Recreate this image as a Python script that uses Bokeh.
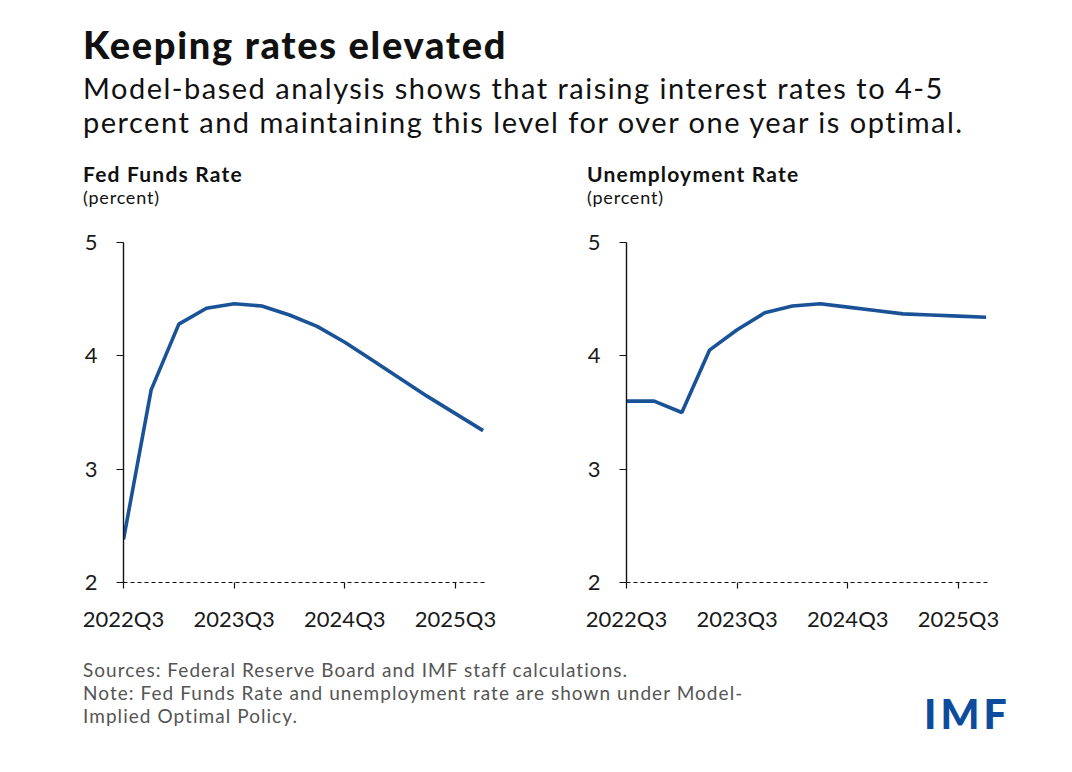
from bokeh.layouts import column, row
from bokeh.models import ColumnDataSource, Div, FixedTicker, Range1d
from bokeh.plotting import figure
from bokeh.embed import file_html
from bokeh.resources import INLINE

# quarterly path under the model-implied optimal policy
quarters = ["2022Q3", "2022Q4", "2023Q1", "2023Q2", "2023Q3", "2023Q4", "2024Q1",
            "2024Q2", "2024Q3", "2024Q4", "2025Q1", "2025Q2", "2025Q3", "2025Q4"]
fed_funds = [2.38, 3.70, 4.28, 4.42, 4.46, 4.44, 4.36, 4.26, 4.12, 3.96, 3.80, 3.64, 3.49, 3.34]
unemployment = [3.60, 3.60, 3.50, 4.05, 4.23, 4.38, 4.44, 4.46, 4.43, 4.40, 4.37, 4.36, 4.35, 4.34]
y_ticks = [2, 3, 4, 5]
x_tick_labels = ["2022Q3", "2023Q3", "2024Q3", "2025Q3"]

LINE = "#1a5298"
FONT = "Lato"


def make_panel(values, width, border_left, border_right):
    xs = list(range(len(quarters)))
    src = ColumnDataSource(data=dict(x=xs, y=values))
    f = figure(width=width, height=430, x_range=Range1d(0, len(quarters) - 0.95),
               y_range=Range1d(y_ticks[0], y_ticks[-1]),
               toolbar_location=None, tools="", output_backend="svg",
               min_border_left=border_left, min_border_right=border_right,
               min_border_top=28, min_border_bottom=62)
    f.line("x", "y", source=src, line_color=LINE, line_width=3.6)

    f.xgrid.grid_line_color = None
    f.ygrid.grid_line_color = None
    f.outline_line_color = None
    f.background_fill_color = "white"
    f.border_fill_color = "white"

    tick_pos = [quarters.index(q) for q in x_tick_labels]
    f.xaxis.ticker = FixedTicker(ticks=tick_pos)
    f.xaxis.major_label_overrides = {i: quarters[i] for i in tick_pos}
    f.xaxis.axis_line_dash = "4 3"
    f.xaxis.axis_line_color = "#111111"
    f.xaxis.axis_line_width = 1.2
    f.xaxis.major_tick_out = 6
    f.xaxis.major_tick_in = 0
    f.xaxis.major_tick_line_color = "#111111"
    f.xaxis.major_tick_line_width = 1.2
    f.xaxis.minor_tick_line_color = None
    f.xaxis.major_label_standoff = 16

    f.yaxis.ticker = FixedTicker(ticks=y_ticks)
    f.yaxis.axis_line_color = "#111111"
    f.yaxis.axis_line_width = 1.4
    f.yaxis.major_tick_out = 7
    f.yaxis.major_tick_in = 0
    f.yaxis.major_tick_line_color = "#111111"
    f.yaxis.major_tick_line_width = 1.2
    f.yaxis.minor_tick_line_color = None
    f.yaxis.major_label_standoff = 19

    for ax in (f.xaxis, f.yaxis):
        ax.major_label_text_font = FONT
        ax.major_label_text_font_size = "22px"
        ax.major_label_text_color = "#1a1a1a"
    return f


p1 = make_panel(fed_funds, 510, 123, 26)
p2 = make_panel(unemployment, 538, 116, 61)

header = Div(width=1056, height=214, styles={"margin": "0", "padding": "0"}, text=f"""
<div style="position:relative;width:1056px;height:214px;font-family:{FONT};color:#111;">
  <div style="position:absolute;left:83px;top:25px;font-size:38px;line-height:38px;font-weight:900;letter-spacing:1.7px;white-space:nowrap;">Keeping rates elevated</div>
  <div style="position:absolute;left:83px;top:71px;font-size:29px;line-height:34px;font-weight:400;letter-spacing:1.5px;white-space:nowrap;">Model-based analysis shows that raising interest rates to 4-5<br>percent and maintaining this level for over one year is optimal.</div>
  <div style="position:absolute;left:83px;top:163px;font-size:21px;line-height:21px;font-weight:700;letter-spacing:1.2px;white-space:nowrap;">Fed Funds Rate</div>
  <div style="position:absolute;left:83px;top:188px;font-size:18px;line-height:18px;letter-spacing:0.8px;white-space:nowrap;">(percent)</div>
  <div style="position:absolute;left:587px;top:163px;font-size:21px;line-height:21px;font-weight:700;letter-spacing:1.2px;white-space:nowrap;">Unemployment Rate</div>
  <div style="position:absolute;left:587px;top:188px;font-size:18px;line-height:18px;letter-spacing:0.8px;white-space:nowrap;">(percent)</div>
</div>""")

footer = Div(width=1056, height=115, styles={"margin": "0", "padding": "0"}, text=f"""
<div style="position:relative;width:1056px;height:115px;font-family:{FONT};">
  <div style="position:absolute;left:83px;top:14px;font-size:19px;line-height:23px;color:#555;letter-spacing:1.05px;white-space:nowrap;">Sources: Federal Reserve Board and IMF staff calculations.<br>Note: Fed Funds Rate and unemployment rate are shown under Model-<br>Implied Optimal Policy.</div>
  <div style="position:absolute;left:924px;top:49px;font-size:41px;line-height:42px;font-weight:900;letter-spacing:4px;color:#0d4c9c;">IMF</div>
</div>""")

p = column(header, row(p1, p2), footer)

open("out.html", "w").write(file_html(p, INLINE))
